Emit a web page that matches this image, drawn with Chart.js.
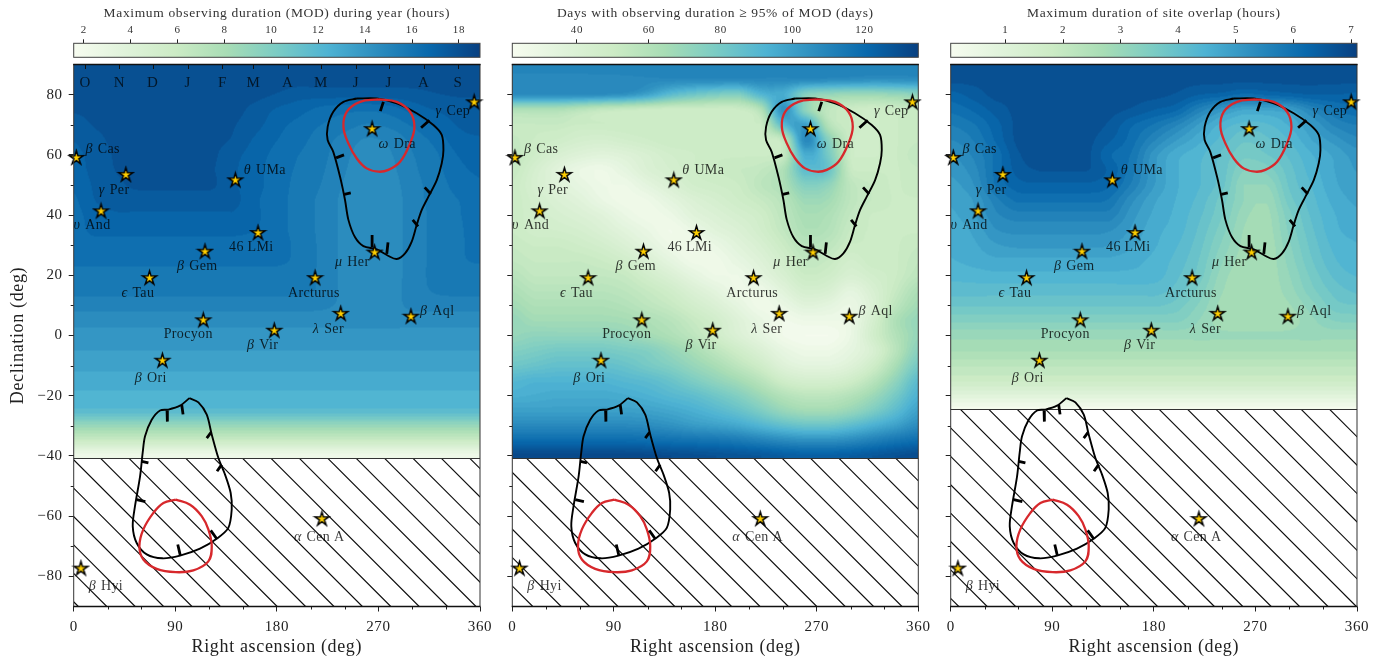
<!DOCTYPE html>
<html><head><meta charset="utf-8">
<script src="https://cdn.jsdelivr.net/npm/chart.js@4"></script>
<style>html,body{margin:0;padding:0;background:#fff;width:1397px;height:664px;overflow:hidden}canvas{position:absolute}</style>
</head><body>
<script>
// ---------- data ----------
const raGrid = [0,20,40,60,80,100,120,140,160,180,200,220,240,260,280,300,320,340,360];
const decGrid = [90,85,80,75,70,65,60,55,50,45,40,35,30,25,20,15,10,5,0,-5,-10,-15,-20,-25,-30,-35,-40];

const modHours = [
[18.1,18.1,18.1,18.1,18.1,18.1,18.1,18.1,18.1,18.1,18.1,18.1,18.1,18.1,18.1,18.1,18.1,18.1,18.1],
[18.0,18.0,18.0,18.0,18.0,18.0,18.0,18.0,18.0,18.0,18.0,18.0,18.0,18.0,18.0,18.0,18.0,18.0,18.0],
[17.9,17.9,17.9,17.9,17.9,17.9,17.9,17.9,17.9,17.7,17.4,17.4,17.4,17.4,17.4,17.5,17.7,17.8,17.8],
[17.8,17.9,17.9,17.9,17.9,17.9,17.9,17.9,17.6,17.1,16.8,16.4,16.2,16.1,16.3,16.8,17.2,17.4,17.5],
[17.5,17.8,17.9,17.9,17.9,17.9,17.9,17.8,17.4,16.8,16.4,16.0,15.7,15.4,15.6,16.1,16.7,17.2,17.4],
[17.2,17.6,17.9,17.9,17.9,17.9,17.9,17.7,17.1,16.6,16.2,15.7,15.2,14.8,15.0,15.6,16.2,16.9,17.1],
[17.0,17.45,17.85,17.9,17.9,17.9,17.9,17.4,16.9,16.4,16.0,15.6,15.0,14.6,14.8,15.4,15.9,16.6,16.9],
[16.9,17.4,17.8,17.9,17.9,17.9,17.85,17.3,16.8,16.3,15.9,15.5,14.9,14.5,14.7,15.3,15.8,16.4,16.7],
[16.7,17.3,17.65,17.9,17.9,17.9,17.9,17.3,16.8,16.3,15.8,15.4,14.8,14.5,14.6,15.2,15.7,16.2,16.5],
[16.5,17.2,17.45,17.4,17.4,17.4,17.4,17.4,16.7,16.3,15.7,15.3,14.7,14.5,14.6,15.1,15.7,16.0,16.3],
[16.4,16.9,17.1,17.1,17.1,17.1,17.1,17.1,16.7,16.3,15.7,15.3,14.7,14.5,14.6,15.1,15.6,15.95,16.3],
[16.3,16.8,16.8,16.8,16.8,16.8,16.8,16.8,16.6,16.3,15.7,15.3,14.7,14.5,14.6,15.1,15.6,15.9,16.3],
[16.3,16.3,16.3,16.3,16.3,16.3,16.3,16.3,16.3,16.3,15.8,15.3,14.7,14.5,14.6,15.1,15.6,15.9,16.2],
[16.2,16.2,16.2,16.2,16.2,16.2,16.2,16.2,16.2,16.2,15.8,15.3,14.7,14.5,14.6,15.1,15.6,15.9,16.1],
[15.7,15.7,15.7,15.7,15.7,15.7,15.7,15.7,15.7,15.7,15.7,15.3,14.7,14.5,14.6,15.1,15.6,15.7,15.7],
[15.6,15.6,15.6,15.6,15.6,15.6,15.6,15.6,15.6,15.6,15.6,15.3,14.7,14.5,14.6,15.1,15.5,15.6,15.6],
[15.1,15.1,15.1,15.1,15.1,15.1,15.1,15.1,15.1,15.1,15.1,15.0,14.7,14.5,14.6,15.0,15.1,15.1,15.1],
[14.5,14.5,14.5,14.5,14.5,14.5,14.5,14.5,14.5,14.5,14.5,14.5,14.5,14.5,14.5,14.5,14.5,14.5,14.5],
[14.05,14.05,14.05,14.05,14.05,14.05,14.05,14.05,14.05,14.05,14.05,14.05,14.05,14.05,14.05,14.05,14.05,14.05,14.05],
[13.7,13.7,13.7,13.7,13.7,13.7,13.7,13.7,13.7,13.7,13.7,13.7,13.7,13.7,13.7,13.7,13.7,13.7,13.7],
[13.3,13.3,13.3,13.3,13.3,13.3,13.3,13.3,13.3,13.3,13.3,13.3,13.3,13.3,13.3,13.3,13.3,13.3,13.3],
[12.8,12.8,12.8,12.8,12.8,12.8,12.8,12.8,12.8,12.8,12.8,12.8,12.8,12.8,12.8,12.8,12.8,12.8,12.8],
[12.4,12.4,12.4,12.4,12.4,12.4,12.4,12.4,12.4,12.4,12.4,12.4,12.4,12.4,12.4,12.4,12.4,12.4,12.4],
[11.7,11.7,11.7,11.7,11.7,11.7,11.7,11.7,11.7,11.7,11.7,11.7,11.7,11.7,11.7,11.7,11.7,11.7,11.7],
[8.8,8.8,8.8,8.8,8.8,8.8,8.8,8.8,8.8,8.8,8.8,8.8,8.8,8.8,8.8,8.8,8.8,8.8,8.8],
[5.8,5.8,5.8,5.8,5.8,5.8,5.8,5.8,5.8,5.8,5.8,5.8,5.8,5.8,5.8,5.8,5.8,5.8,5.8],
[2.4,2.4,2.4,2.4,2.4,2.4,2.4,2.4,2.4,2.4,2.4,2.4,2.4,2.4,2.4,2.4,2.4,2.4,2.4]
];

const daysNearMod = [
[110,110,110,110,110,110,110,110,110,110,110,110,110,110,110,110,110,110,110],
[108,108,108,108,108,108,108,108,108,108,108,108,108,108,107,106,105,105,106],
[107,107,107,107,106,104,98,88,82,78,76,90,95,75,70,68,68,70,72],
[62,62,62,58,54,52,50,49,49,49,50,60,104,72,55,50,48,50,52],
[52,52,52,50,50,50,50,50,50,50,50,50,88,100,60,50,48,50,52],
[53,50,48,45,44,46,48,50,50,50,50,50,55,108,75,50,48,50,52],
[54,48,42,38,36,38,42,46,48,50,50,50,52,95,80,50,48,50,54],
[52,44,36,30,28,33,40,44,48,50,52,54,62,88,84,52,50,50,52],
[50,43,37,32,28,28,34,40,46,48,50,56,62,76,72,56,52,50,52],
[50,45,40,36,30,27,28,34,40,44,48,52,58,68,66,56,52,50,50],
[50,46,43,40,36,30,27,29,36,40,44,48,56,64,62,54,50,50,50],
[50,47,46,44,40,35,30,26,30,36,40,46,54,62,60,52,50,50,50],
[52,50,50,48,45,40,34,28,26,30,36,42,50,58,56,50,50,50,52],
[54,52,52,52,50,46,40,33,27,27,32,38,46,54,52,46,50,50,54],
[58,54,54,54,54,52,46,40,33,28,28,34,42,50,48,42,46,50,56],
[62,58,58,58,58,56,52,47,40,34,28,28,36,44,42,34,42,52,62],
[66,62,62,62,62,60,56,52,46,40,33,27,30,36,34,30,40,56,66],
[70,66,66,66,66,65,62,58,52,46,38,31,26,28,28,30,44,62,70],
[70,72,72,72,72,70,66,62,56,48,40,33,26,24,24,30,46,60,70],
[76,78,80,80,80,78,76,70,64,56,48,40,32,28,28,33,42,58,74],
[82,84,86,86,86,84,80,76,70,64,56,48,38,34,34,38,48,64,80],
[90,92,92,92,92,90,88,84,78,72,66,58,48,44,44,48,58,72,88],
[94,95,96,96,96,95,93,90,87,82,76,68,60,56,56,60,68,80,93],
[100,100,100,100,100,100,99,97,94,90,85,78,70,66,66,70,78,88,99],
[108,108,108,108,108,108,107,105,102,100,97,92,87,84,84,88,94,100,107],
[120,120,120,120,120,120,119,118,117,116,114,111,108,106,106,108,112,116,119],
[132,132,132,132,132,132,132,131,130,129,128,127,125,124,124,125,127,129,131]
];

const overlapHours = [
[6.75,6.75,6.75,6.75,6.75,6.75,6.75,6.75,6.75,6.75,6.75,6.75,6.75,6.75,6.75,6.75,6.75,6.75,6.75],
[6.7,6.7,6.7,6.7,6.7,6.7,6.7,6.7,6.7,6.7,6.7,6.7,6.7,6.7,6.7,6.7,6.7,6.7,6.7],
[6.3,6.5,6.7,6.7,6.7,6.7,6.7,6.7,6.7,6.7,6.6,6.4,6.3,6.1,6.2,6.3,6.4,6.4,6.35],
[6.0,6.2,6.5,6.7,6.7,6.7,6.7,6.7,6.6,6.4,6.2,5.6,5.1,4.75,4.8,4.95,5.5,5.9,6.1],
[5.7,5.9,6.3,6.7,6.7,6.7,6.7,6.6,6.2,5.9,5.5,4.95,4.45,4.2,4.25,4.55,5.0,5.5,5.7],
[5.45,5.7,6.2,6.7,6.7,6.7,6.7,6.45,6.05,5.5,5.0,4.6,4.2,3.85,4.0,4.3,4.75,5.1,5.4],
[5.2,5.5,6.0,6.6,6.7,6.7,6.7,6.2,5.9,5.1,4.6,4.35,4.0,3.65,3.8,4.1,4.5,4.8,5.1],
[5.05,5.35,6.0,6.5,6.65,6.65,6.65,6.35,5.8,5.05,4.55,4.3,3.95,3.35,3.45,3.95,4.4,4.75,5.0],
[4.9,5.2,5.95,6.3,6.35,6.35,6.35,6.2,5.65,5.0,4.55,4.3,3.9,3.1,3.1,3.85,4.3,4.7,4.9],
[4.8,5.0,5.6,6.0,6.0,6.0,6.0,5.9,5.3,4.8,4.5,4.2,3.7,3.1,2.9,3.7,4.2,4.6,4.8],
[4.7,4.95,5.4,5.6,5.6,5.6,5.6,5.6,5.1,4.7,4.45,4.1,3.6,2.95,2.8,3.5,4.1,4.5,4.7],
[4.6,4.8,5.2,5.3,5.3,5.3,5.3,5.25,4.95,4.6,4.4,4.0,3.45,2.85,2.75,3.4,4.0,4.45,4.6],
[4.55,4.7,4.95,5.05,5.05,5.05,5.05,5.0,4.8,4.55,4.3,3.9,3.3,2.8,2.7,3.3,3.9,4.35,4.5],
[4.5,4.6,4.7,4.7,4.7,4.7,4.7,4.7,4.6,4.45,4.2,3.8,3.15,2.75,2.7,3.2,3.8,4.25,4.45],
[4.35,4.4,4.45,4.45,4.45,4.45,4.45,4.45,4.45,4.4,4.1,3.7,3.0,2.7,2.7,3.1,3.65,4.1,4.3],
[4.15,4.15,4.15,4.15,4.15,4.15,4.15,4.15,4.15,4.15,3.95,3.5,2.9,2.7,2.7,3.0,3.5,3.9,4.1],
[3.85,3.85,3.85,3.85,3.85,3.85,3.85,3.85,3.85,3.85,3.7,3.3,2.8,2.7,2.7,2.85,3.25,3.7,3.8],
[3.4,3.4,3.4,3.4,3.4,3.4,3.4,3.4,3.4,3.4,3.4,3.1,2.75,2.7,2.7,2.75,3.05,3.35,3.4],
[2.95,2.95,2.95,2.95,2.95,2.95,2.95,2.95,2.95,2.95,2.95,2.95,2.9,2.9,2.9,2.9,2.95,2.95,2.95],
[2.65,2.65,2.65,2.65,2.65,2.65,2.65,2.65,2.65,2.65,2.65,2.65,2.65,2.65,2.65,2.65,2.65,2.65,2.65],
[2.2,2.2,2.2,2.2,2.2,2.2,2.2,2.2,2.2,2.2,2.2,2.2,2.2,2.2,2.2,2.2,2.2,2.2,2.2],
[1.75,1.75,1.75,1.75,1.75,1.75,1.75,1.75,1.75,1.75,1.75,1.75,1.75,1.75,1.75,1.75,1.75,1.75,1.75],
[0.95,0.95,0.95,0.95,0.95,0.95,0.95,0.95,0.95,0.95,0.95,0.95,0.95,0.95,0.95,0.95,0.95,0.95,0.95],
[0.1,0.1,0.1,0.1,0.1,0.1,0.1,0.1,0.1,0.1,0.1,0.1,0.1,0.1,0.1,0.1,0.1,0.1,0.1]
];

const starNames = ['β Cas','γ Per','υ And','θ UMa','46 LMi','β Gem','ϵ Tau','Arcturus','λ Ser','β Aql','Procyon','β Vir','β Ori','α Cen A','β Hyi','ω Dra','μ Her','γ Cep'];
const starRA  = [2.3,46.2,24.2,143.2,163.3,116.3,67.2,213.9,236.6,298.8,114.8,177.7,78.6,219.9,6.4,264.4,266.6,354.8];
const starDec = [59.15,53.5,41.4,51.7,34.2,28.0,19.2,19.2,7.35,6.4,5.2,1.76,-8.2,-60.8,-77.25,68.7,27.7,77.6];

const months = ['O','N','D','J','F','M','A','M','J','J','A','S'];
const monthRA = [10,40.5,70,101,131.7,159.2,189.6,219,250,279,310,340.3];

const northRA  = [250.8,268.5,286.2,303.9,318.7,326.1,327.6,326.1,321.7,314.3,308.4,303.9,299.5,293.6,286.2,278.9,268.5,256.7,249.3,243.4,240.4,236,230,225,225,230,239,250.8];
const northDec = [78.7,78.7,77.1,73.8,69.9,66.6,61.6,57.2,51.6,46.1,41.7,36.7,31.2,27.3,25.4,26.4,28.6,29.7,32.6,38.4,45,52.7,61,64.9,69.3,74.3,77.6,78.7];
const southRA  = [102.5,110.5,117.9,122.3,128.2,134.1,139.1,140,137,126.7,111.9,94.2,78.6,64.7,55.8,52.3,54.3,58.8,61.1,63.2,69.1,76.5,83.9,94.2,102.5];
const southDec = [-20.8,-22.2,-26.3,-32.9,-40.7,-46.2,-52.3,-57.8,-63.9,-67.5,-70.8,-73.1,-74,-72.7,-68.9,-63.3,-56.7,-46.8,-39,-33.5,-28,-24.9,-24.6,-23.3,-20.8];
const barbRA  = [274.4,271.7,null,315.2,307.8,null,311,316.4,null,300.4,305.1,null,278.5,277.4,null,264.4,264.4,null,239.8,245.5,null,232.5,239.5,null,
                 82.7,83,null,95.7,96.9,null,121.7,117.9,null,131.1,127,null,121.4,126.7,null,92.2,94.5,null,55.8,63.5,null,60.3,66.2];
const barbDec = [77.6,74.5,null,71.5,69,null,49.2,47,null,38.4,36.2,null,30.9,27.1,null,33.4,29.3,null,46.9,47.4,null,59,60,null,
                 -24.9,-28.6,null,-23,-26.2,null,-32.2,-34.1,null,-42.9,-45.1,null,-64.7,-67.5,null,-69.4,-73.1,null,-54.5,-55.2,null,-41.8,-42.3];
const redNorthRA  = [270,286.2,298,301.9,298,289.2,278.8,270,259.6,250.8,243.4,239,241.9,253.7,270];
const redNorthDec = [78.4,77.6,74.3,69.3,63.8,57.7,55,54.4,55.5,58.8,63.8,69.3,74.3,77.6,78.4];
const redSouthRA  = [90.4,103.1,113.4,119.3,122.3,119.3,106,90.4,73.5,61.7,58.2,61.7,70.6,79.5,90.4];
const redSouthDec = [-54.5,-56.2,-60,-64.4,-70,-75,-78,-78.6,-77.5,-74.4,-70,-64.4,-58.9,-55.6,-54.5];

const raTicks = [0,90,180,270,360];
const raMinor = [30,60,120,150,210,240,300,330];
const decTicks = [80,60,40,20,0,-20,-40,-60,-80];
const decMinor = [70,50,30,10,-10,-30,-50,-70];

const barTitles = ['Maximum observing duration (MOD) during year (hours)','Days with observing duration ≥ 95% of MOD (days)','Maximum duration of site overlap (hours)'];
const barTicks = [[2,4,6,8,10,12,14,16,18],[40,60,80,100,120],[1,2,3,4,5,6,7]];
const barRange = [[1.57,18.9],[22,135],[0.05,7.1]];
const floorDec = [-40.7,-40.7,-24.5];
const levelCount = [30,56,30];
const panelTables = [modHours,daysNearMod,overlapHours];

// ---------- layout and style ----------
const SERIF = '"Liberation Serif","Times New Roman",serif';
const panels = [{canvasLeft:0,width:500,plotLeft:73.7,plotRight:480},
                {canvasLeft:490,width:450,plotLeft:512.3,plotRight:918.3},
                {canvasLeft:930,width:450,plotLeft:950.7,plotRight:1357}];
const labelDX = [26.3,-11.7,-9,29.4,-6.7,-7.7,-11.7,-1.3,-12.4,26.3,-15,-11.7,-11.6,-2.7,25,25,-22.4,-21.3];
const labelDY = [-10,14,13.4,-10.6,13.3,14,14,14,14,-6.7,13,13.3,17,17.4,17,13.7,8.4,8];
const MAIN_TOP = 40, BAR_H = 62, PLOT_TOP = 64.5, PLOT_BOTTOM = 606.5, H = 664;

const GNBU = [[247,252,240],[224,243,219],[204,235,197],[168,221,181],[123,204,196],[78,179,211],[43,140,190],[8,104,172],[8,64,129]];
function cmap(f){
  f=Math.max(0,Math.min(1,f))*8; const i=Math.min(7,Math.floor(f)), t=f-i, a=GNBU[i], b=GNBU[i+1];
  return [a[0]+(b[0]-a[0])*t,a[1]+(b[1]-a[1])*t,a[2]+(b[2]-a[2])*t];
}
function cubic(p0,p1,p2,p3,t){
  const v=p1+.5*t*(p2-p0+t*(2*p0-5*p1+4*p2-p3+t*(3*(p1-p2)+p3-p0)));
  return Math.max(Math.min(p1,p2),Math.min(Math.max(p1,p2),v));
}
function makeStar(){
  const c=document.createElement('canvas'); c.width=c.height=19; const g=c.getContext('2d');
  const R=7.3,r=R*0.36,cx=9.5,cy=10;
  g.beginPath();
  for(let i=0;i<10;i++){const a=-Math.PI/2+i*Math.PI/5,q=i%2?r:R; g[i?'lineTo':'moveTo'](cx+q*Math.cos(a),cy+q*Math.sin(a));}
  g.closePath(); g.fillStyle='#ffcf00'; g.fill(); g.lineWidth=1.45; g.lineJoin='miter'; g.strokeStyle='#000'; g.stroke();
  return c;
}
const starImg = makeStar();
const pts=(xs,ys)=>xs.map((x,i)=>({x,y:ys[i]}));

// ---------- plugins ----------
const spacing = s => ({id:'spacing',beforeDraw(ch){ch.ctx.letterSpacing=s;}});

function heatPlugin(idx){
  const tab=panelTables[idx], [lo,hi]=barRange[idx], N=levelCount[idx], P=panels[idx];
  return {id:'heat',beforeDatasetsDraw(ch){
    const {x:X,y:Y}=ch.scales, A=ch.chartArea, ctx=ch.ctx;
    const grid=ch.data.datasets[ch.data.datasets.length-1].data, nc=raGrid.length, nr=tab.length;
    const val=(r,c)=>grid[Math.max(0,Math.min(nr-1,r))*nc+Math.max(0,Math.min(nc-1,c))].v;
    const yFloor=Y.getPixelForValue(floorDec[idx]);
    const w=Math.ceil(A.right-A.left), h=Math.ceil(yFloor-A.top);
    const off=document.createElement('canvas'); off.width=w; off.height=h;
    const og=off.getContext('2d'), im=og.createImageData(w,h);
    for(let py=0;py<h;py++){
      const dec=Y.getValueForPixel(A.top+py+.5), tr=(90-dec)/5, r=Math.floor(tr), ft=tr-r;
      for(let px=0;px<w;px++){
        const ra=X.getValueForPixel(A.left+px+.5), tc=ra/20, c=Math.min(nc-2,Math.floor(tc)), fc=tc-c;
        const rows=[-1,0,1,2].map(d=>cubic(val(r+d,c-1),val(r+d,c),val(r+d,c+1),val(r+d,c+2),fc));
        const v=cubic(rows[0],rows[1],rows[2],rows[3],ft);
        const lev=Math.min(N-1,Math.max(0,Math.floor((v-lo)/(hi-lo)*N)));
        const col=cmap((lev+.5)/N), k=(py*w+px)*4;
        im.data[k]=col[0];im.data[k+1]=col[1];im.data[k+2]=col[2];im.data[k+3]=255;
      }
    }
    og.putImageData(im,0,0);
    ctx.save();
    ctx.beginPath();ctx.rect(A.left,A.top,A.right-A.left,A.bottom-A.top);ctx.clip();
    ctx.drawImage(off,A.left,A.top);
    // unobservable region with hatching
    ctx.fillStyle='#fff';ctx.fillRect(A.left,yFloor,A.right-A.left,A.bottom-yFloor);
    ctx.beginPath();ctx.rect(A.left,yFloor,A.right-A.left,A.bottom-yFloor);ctx.clip();
    const p=28.4,c0=11.5,gx=P.canvasLeft,gy=MAIN_TOP;
    ctx.strokeStyle='#111';ctx.lineWidth=1.1;ctx.beginPath();
    for(let k=-40;k<60;k++){
      const c=c0+k*p-gx+gy; // canvas x - y = c
      ctx.moveTo(yFloor+c,yFloor);ctx.lineTo(A.bottom+c,A.bottom);
    }
    ctx.stroke();
    ctx.restore();
    ctx.strokeStyle='#333';ctx.lineWidth=1;ctx.beginPath();
    ctx.moveTo(A.left,Math.round(yFloor)+.5);ctx.lineTo(A.right,Math.round(yFloor)+.5);ctx.stroke();
  }};
}

function decorPlugin(idx){
  return {id:'decor',
  afterDatasetsDraw(ch){
    const {x:X,y:Y}=ch.scales, A=ch.chartArea, ctx=ch.ctx;
    ctx.save();
    ctx.beginPath();ctx.rect(A.left,A.top,A.right-A.left,A.bottom-A.top);ctx.clip();
    ctx.textBaseline='middle';
    ctx.fillStyle='rgba(0,0,0,.78)';
    starNames.forEach((name,i)=>{
      const sp=name.indexOf(' ');
      const isGreek=/^[α-ωϵ]/.test(name);
      const first=isGreek?name.slice(0,sp):'', rest=isGreek?name.slice(sp+1):name;
      ctx.letterSpacing='0.35px';
      ctx.font='italic 14px '+SERIF; const w1=first?ctx.measureText(first).width+5:0;
      ctx.font='14px '+SERIF; const w2=ctx.measureText(rest).width;
      const cx=X.getPixelForValue(starRA[i])+labelDX[i], cy=Y.getPixelForValue(starDec[i])+labelDY[i]+1.5;
      let x=cx-(w1+w2)/2;
      ctx.textAlign='left';
      if(first){ctx.font='italic 14px '+SERIF;ctx.fillText(first,x,cy);x+=w1;ctx.font='14px '+SERIF;}
      ctx.fillText(rest,x,cy);
    });
    if(idx===0){
      ctx.textAlign='center';ctx.font='15px '+SERIF;ctx.fillStyle='rgba(0,0,0,.72)';
      months.forEach((m,i)=>{
        const mx=X.getPixelForValue(monthRA[i]);
        ctx.fillText(m,mx,A.top+18.5);
        ctx.strokeStyle='#111';ctx.lineWidth=1;ctx.beginPath();
        ctx.moveTo(Math.round(mx)+.5,A.top);ctx.lineTo(Math.round(mx)+.5,A.top+4.5);ctx.stroke();
      });
    }
    ctx.restore();
  },
  afterDraw(ch){
    const {x:X,y:Y}=ch.scales, A=ch.chartArea, ctx=ch.ctx;
    ctx.save();ctx.strokeStyle='#222';ctx.lineWidth=1;ctx.beginPath();
    decMinor.forEach(d=>{const q=Math.round(Y.getPixelForValue(d))+.5;ctx.moveTo(A.left-3,q);ctx.lineTo(A.left,q);});
    raMinor.forEach(r=>{const q=Math.round(X.getPixelForValue(r))+.5;ctx.moveTo(q,A.bottom);ctx.lineTo(q,A.bottom+3);});
    ctx.stroke();
    ctx.strokeStyle='#333';ctx.lineWidth=1;ctx.strokeRect(A.left,A.top,A.right-A.left,A.bottom-A.top);
    ctx.strokeStyle='#111';ctx.lineWidth=1.6;ctx.beginPath();
    ctx.moveTo(A.left-.5,A.top);ctx.lineTo(A.right+.5,A.top);ctx.moveTo(A.left-.5,A.bottom);ctx.lineTo(A.right+.5,A.bottom);ctx.stroke();
    ctx.restore();
  }};
}

const barPlugin={id:'gradient',beforeDatasetsDraw(ch){
  const A=ch.chartArea,ctx=ch.ctx,g=ctx.createLinearGradient(A.left,0,A.right,0);
  GNBU.forEach((c,i)=>g.addColorStop(i/8,`rgb(${c})`));
  ctx.fillStyle=g;ctx.fillRect(A.left,A.top,A.right-A.left,A.bottom-A.top);
  ctx.strokeStyle='#444';ctx.lineWidth=1;ctx.strokeRect(A.left,A.top,A.right-A.left,A.bottom-A.top);
}};

// ---------- charts ----------
function addCanvas(left,top,w,h){
  const c=document.createElement('canvas');c.width=w;c.height=h;
  c.style.cssText=`left:${left}px;top:${top}px;width:${w}px;height:${h}px`;
  document.body.appendChild(c);return c;
}
panels.forEach((P,idx)=>{
  // colour bar
  new Chart(addCanvas(P.canvasLeft,0,P.width,BAR_H),{
    type:'scatter',
    data:{datasets:[{data:barTicks[idx].map(v=>({x:v,y:.5})),pointRadius:0}]},
    plugins:[spacing('0.65px'),barPlugin],
    options:{responsive:false,animation:false,devicePixelRatio:1,
      layout:{padding:{left:P.plotLeft-P.canvasLeft,right:P.canvasLeft+P.width-P.plotRight,top:0,bottom:BAR_H-57.3}},
      plugins:{legend:{display:false},tooltip:{enabled:false}},
      scales:{
        y:{display:false,min:0,max:1},
        x:{type:'linear',position:'top',min:barRange[idx][0],max:barRange[idx][1],
          afterBuildTicks(s){s.ticks=barTicks[idx].map(v=>({value:v}));},
          afterFit(s){s.height=43.3;},
          grid:{drawOnChartArea:false,drawTicks:true,tickLength:4,color:'#222',tickColor:'#222',lineWidth:1},
          border:{display:false},
          ticks:{font:{family:SERIF,size:11},color:'#333',padding:3,maxRotation:0,autoSkip:false,callback:v=>String(v)},
          title:{display:true,text:barTitles[idx],font:{family:SERIF,size:13.5},color:'#333',padding:{top:5,bottom:0}}
        }
      }}
  });
  // sky map
  const grid=[];
  panelTables[idx].forEach((row,r)=>row.forEach((v,c)=>grid.push({x:raGrid[c],y:decGrid[r],v})));
  new Chart(addCanvas(P.canvasLeft,MAIN_TOP,P.width,H-MAIN_TOP),{
    type:'scatter',
    data:{datasets:[
      {label:'Stars',data:pts(starRA,starDec),pointStyle:starImg,pointRadius:8,showLine:false,clip:false},
      {label:'Barbs',data:pts(barbRA,barbDec),showLine:true,pointRadius:0,borderColor:'#000',borderWidth:2.8,tension:0,spanGaps:false},
      {label:'Red north',data:pts(redNorthRA,redNorthDec),showLine:true,pointRadius:0,borderColor:'#d7282c',borderWidth:2.3,tension:.4},
      {label:'Red south',data:pts(redSouthRA,redSouthDec),showLine:true,pointRadius:0,borderColor:'#d7282c',borderWidth:2.3,tension:.4},
      {label:'North',data:pts(northRA,northDec),showLine:true,pointRadius:0,borderColor:'#000',borderWidth:1.9,tension:.3},
      {label:'South',data:pts(southRA,southDec),showLine:true,pointRadius:0,borderColor:'#000',borderWidth:1.9,tension:.3},
      {label:'Grid',data:grid,pointRadius:0,showLine:false}
    ]},
    plugins:[spacing('0.65px'),heatPlugin(idx),decorPlugin(idx)],
    options:{responsive:false,animation:false,devicePixelRatio:1,
      layout:{padding:{left:0,right:P.canvasLeft+P.width-P.plotRight,top:PLOT_TOP-MAIN_TOP,bottom:0}},
      plugins:{legend:{display:false},tooltip:{enabled:false}},
      scales:{
        x:{type:'linear',position:'bottom',min:0,max:360,
          afterBuildTicks(s){s.ticks=raTicks.map(v=>({value:v}));},
          afterFit(s){s.height=H-PLOT_BOTTOM;},
          grid:{drawOnChartArea:false,tickLength:5,tickColor:'#222',lineWidth:1},
          border:{display:false},
          ticks:{font:{family:SERIF,size:15},color:'#222',padding:7,maxRotation:0,autoSkip:false,callback:v=>String(v)},
          title:{display:true,text:'Right ascension (deg)',font:{family:SERIF,size:18},color:'#222',padding:{top:0,bottom:6}}
        },
        y:{type:'linear',position:'left',min:-90,max:90,
          afterBuildTicks(s){s.ticks=decTicks.map(v=>({value:v}));},
          afterFit(s){s.width=P.plotLeft-P.canvasLeft;},
          grid:{drawOnChartArea:false,tickLength:5,tickColor:'#222',lineWidth:1},
          border:{display:false},
          ticks:{font:{family:SERIF,size:15},color:'#222',padding:6,autoSkip:false,
            callback:v=>idx===0?String(v).replace('-','−'):''},
          title:{display:idx===0,text:'Declination (deg)',font:{family:SERIF,size:18},color:'#222',padding:{top:7,bottom:0}}
        }
      }}
  });
});
</script>
</body></html>
